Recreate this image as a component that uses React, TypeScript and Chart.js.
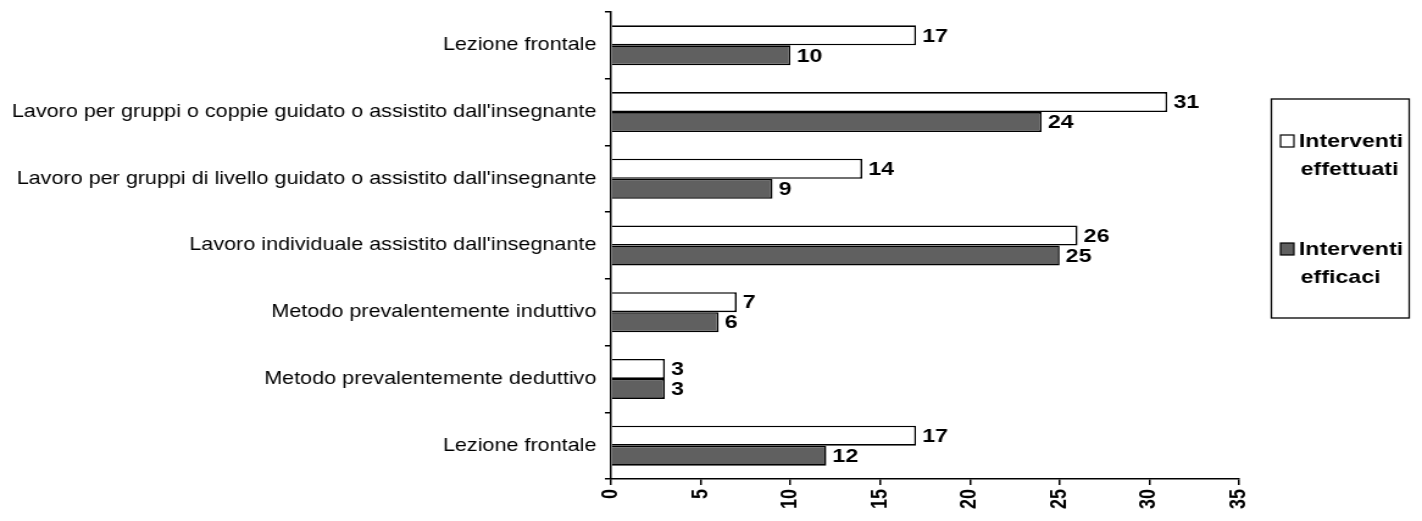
import React, { useEffect, useRef } from "react";
import { Chart, registerables } from "chart.js";

Chart.register(...registerables);

const categories = [
  "Lezione frontale",
  "Lavoro per gruppi o coppie guidato o assistito dall'insegnante",
  "Lavoro per gruppi di livello guidato o assistito dall'insegnante",
  "Lavoro individuale assistito dall'insegnante",
  "Metodo prevalentemente induttivo",
  "Metodo prevalentemente deduttivo",
  "Lezione frontale",
];
const effettuati = [17, 31, 14, 26, 7, 3, 17];
const efficaci = [10, 24, 9, 25, 6, 3, 12];
const seriesNames = [["Interventi", "effettuati"], ["Interventi", "efficaci"]];
const seriesColors = ["#ffffff", "#606060"];

// The reference image is stretched horizontally; draw at a narrower internal
// width and let CSS stretch the canvas to the page width.
const STRETCH = 1.22;
const W = 1422;
const H = 521;
const IW = Math.round(W / STRETCH);
const FONT = "'Liberation Sans', Arial, sans-serif";

const valueLabels = {
  id: "valueLabels",
  afterDatasetsDraw(chart: any) {
    const ctx = chart.ctx;
    ctx.save();
    ctx.font = `bold 19px ${FONT}`;
    ctx.fillStyle = "#000";
    ctx.textAlign = "left";
    ctx.textBaseline = "middle";
    chart.data.datasets.forEach((ds: any, i: number) => {
      const meta = chart.getDatasetMeta(i);
      meta.data.forEach((el: any, j: number) => {
        ctx.fillText(String(ds.data[j]), el.x + 5, el.y + 1);
      });
    });
    ctx.restore();
  },
};

const boxLegend = {
  id: "boxLegend",
  afterDraw(chart: any) {
    const ctx = chart.ctx;
    ctx.save();
    ctx.strokeStyle = "#000";
    ctx.lineWidth = 1.3;
    ctx.strokeRect(1042.5, 99, 113, 219);
    ctx.font = `bold 19px ${FONT}`;
    ctx.textAlign = "left";
    ctx.textBaseline = "alphabetic";
    const bases = [147, 255];
    seriesNames.forEach((lines, i) => {
      const base = bases[i];
      ctx.fillStyle = seriesColors[i];
      ctx.fillRect(1050, base - 12, 11, 12);
      ctx.lineWidth = 1.2;
      ctx.strokeRect(1050, base - 12, 11, 12);
      ctx.fillStyle = "#000";
      lines.forEach((t, k) => {
        ctx.fillText(t, k === 0 ? 1065 : 1066.5, base + k * 28);
      });
    });
    ctx.restore();
  },
};

export default function App() {
  const ref = useRef<HTMLCanvasElement>(null);
  useEffect(() => {
    if (!ref.current) return;
    const chart = new Chart(ref.current, {
      type: "bar",
      data: {
        labels: categories,
        datasets: [
          {
            label: seriesNames[0].join(" "),
            data: effettuati,
            backgroundColor: seriesColors[0],
            borderColor: "#000",
            borderWidth: 1.6,
            categoryPercentage: 0.6,
            barPercentage: 1.0,
          },
          {
            label: seriesNames[1].join(" "),
            data: efficaci,
            backgroundColor: seriesColors[1],
            borderColor: "#000",
            borderWidth: 1.6,
            categoryPercentage: 0.6,
            barPercentage: 1.0,
          },
        ],
      },
      options: {
        indexAxis: "y",
        animation: false,
        responsive: false,
        devicePixelRatio: 1,
        events: [],
        layout: { padding: { top: 12, right: IW - 1016, left: 0, bottom: 0 } },
        plugins: { legend: { display: false }, tooltip: { enabled: false } },
        scales: {
          x: {
            min: 0,
            max: 35,
            afterFit(scale: any) {
              scale.height = 42;
              scale.paddingLeft = 0;
              scale.paddingRight = 0;
            },
            ticks: {
              stepSize: 5,
              autoSkip: false,
              minRotation: 90,
              maxRotation: 90,
              padding: 4,
              color: "#000",
              font: { family: FONT, size: 18, weight: "bold" },
            },
            grid: { display: true, drawOnChartArea: false, drawTicks: true, tickLength: 6, color: "#000", lineWidth: 1.5 },
            border: { display: true, color: "#000", width: 1.5 },
          },
          y: {
            afterFit(scale: any) {
              scale.width = 501;
              scale.paddingTop = 0;
              scale.paddingBottom = 0;
            },
            ticks: {
              autoSkip: false,
              padding: 7,
              color: "#000",
              font: { family: FONT, size: 17.7 },
            },
            grid: { display: true, offset: true, drawOnChartArea: false, drawTicks: true, tickLength: 5, color: "#000", lineWidth: 1.5 },
            border: { display: true, color: "#000", width: 1.5 },
          },
        },
      },
      plugins: [valueLabels, boxLegend],
    } as any);
    return () => chart.destroy();
  }, []);
  return (
    <div style={{ position: "fixed", left: 0, top: 0, width: W, height: H, background: "#fff" }}>
      <canvas ref={ref} width={IW} height={H} style={{ display: "block", width: W + "px", height: H + "px" }} />
    </div>
  );
}
